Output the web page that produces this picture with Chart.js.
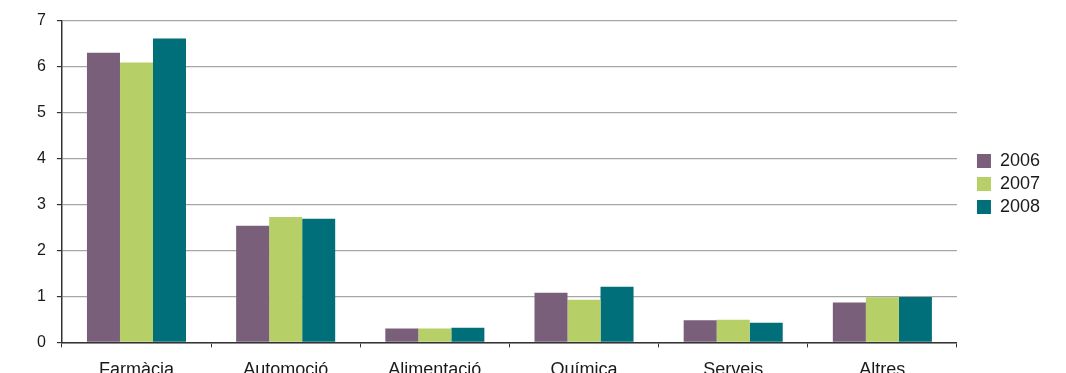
<!DOCTYPE html>
<html lang="ca">
<head>
  <meta charset="UTF-8">
  <title>Sectors 2006-2008</title>
  <script src="https://cdn.jsdelivr.net/npm/chart.js"></script>
  <style>
    html, body { margin: 0; padding: 0; overflow: hidden; background: #fff; }
    #wrap { width: 1066px; height: 393px; }
  </style>
</head>
<body>
  <div id="wrap"><canvas id="sectorChart"></canvas></div>

  <script>
    const sectors = ['Farmàcia', 'Automoció', 'Alimentació', 'Química', 'Serveis', 'Altres'];
    const years = ['2006', '2007', '2008'];
    const values2006 = [6.3, 2.54, 0.30, 1.08, 0.48, 0.87];
    const values2007 = [6.09, 2.73, 0.30, 0.93, 0.49, 0.98];
    const values2008 = [6.61, 2.69, 0.32, 1.21, 0.43, 0.99];
    const colors = ['#7a5f7b', '#b6cf66', '#006f79'];

    const family = '"Liberation Sans", Arial, sans-serif';
    const tickFont = { family, size: 16 };
    const labelFont = { family, size: 18 };
    const legendFont = { family, size: 18, lineHeight: 1 };

    const datasets = [values2006, values2007, values2008].map((data, i) => ({
      label: years[i],
      data,
      backgroundColor: colors[i],
      borderWidth: 0,
      categoryPercentage: 0.664,
      barPercentage: 1
    }));

    // push the legend away from the plot and centre it on the plot area
    const legendGap = {
      id: 'legendGap',
      afterUpdate(chart) {
        const lg = chart.legend;
        const area = chart.chartArea;
        lg.left += 15;
        lg.right += 15;
        const dy = (area.top + area.bottom) / 2 + 2.5 - (lg.top + lg.bottom) / 2;
        lg.top += dy;
        lg.bottom += dy;
      }
    };

    new Chart(document.getElementById('sectorChart'), {
      type: 'bar',
      data: { labels: sectors, datasets },
      plugins: [legendGap],
      options: {
        responsive: true,
        maintainAspectRatio: false,
        animation: false,
        layout: { padding: { left: 26, top: 10, right: 31, bottom: 0 } },
        plugins: {
          tooltip: { enabled: false },
          legend: {
            position: 'right',
            align: 'center',
            labels: {
              font: legendFont,
              color: '#1a1a1a',
              boxWidth: 14,
              boxHeight: 14,
              padding: 5
            }
          }
        },
        scales: {
          x: {
            grid: { drawOnChartArea: false, drawTicks: true, tickLength: 5, color: '#333' },
            border: { color: '#333', width: 1.5 },
            ticks: { font: labelFont, color: '#1a1a1a', padding: 12 }
          },
          y: {
            min: 0,
            max: 7,
            ticks: { stepSize: 1, font: tickFont, color: '#1a1a1a', padding: 11 },
            grid: { color: '#a6a6a6', lineWidth: 1.2, tickLength: 5, tickColor: '#333' },
            border: { color: '#333', width: 1.5 }
          }
        }
      }
    });
  </script>
</body>
</html>
